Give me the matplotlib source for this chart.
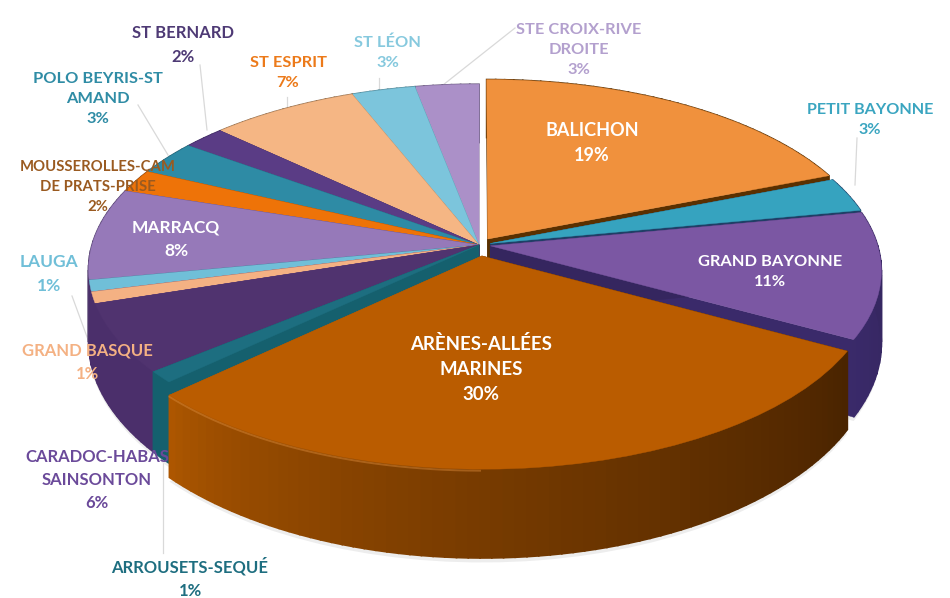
import numpy as np
import matplotlib
matplotlib.use('Agg')
import matplotlib.pyplot as plt
from matplotlib.colors import to_rgb
from matplotlib.transforms import Transform

plt.rcParams['font.family'] = ['Lato', 'DejaVu Sans']

names = ['BALICHON', 'PETIT BAYONNE', 'GRAND BAYONNE', 'ARÈNES-ALLÉES\nMARINES', 'ARROUSETS-SEQUÉ',
         'CARADOC-HABAS\nSAINSONTON', 'GRAND BASQUE', 'LAUGA', 'MARRACQ',
         'MOUSSEROLLES-CAM\nDE PRATS-PRISE', 'POLO BEYRIS-ST\nAMAND', 'ST BERNARD', 'ST ESPRIT',
         'ST LÉON', 'STE CROIX-RIVE\nDROITE']
values = [19, 3, 11, 30, 1, 6, 1, 1, 8, 2, 3, 2, 7, 3, 3]

top_colors = ['#F0913D', '#36A3BF', '#7B57A3', '#BA5C00', '#1D6E80', '#50336F', '#F4B183', '#70BFD8',
              '#9679B9', '#EE7308', '#2E8BA5', '#5A3C85', '#F5B684', '#7CC5DC', '#AB90C8']
# side colours at the right and left end of each slice's wall
side_right = ['#5A3000', '#1F3F66', '#35265F', '#4A2400', '#15606E', '#4B2F6B', '#4B2F6B', '#4B2F6B',
              '#54406F', '#84400A', '#1F5C6E', '#37255A', '#8F6A48', '#4A8090', '#6A5A80']
side_left = ['#5A3000', '#1F3F66', '#3A2A6A', '#B05800', '#15606E', '#4B2F6B', '#4B2F6B', '#4B2F6B',
             '#54406F', '#84400A', '#1F5C6E', '#37255A', '#8F6A48', '#4A8090', '#6A5A80']
explode = [0.04, 0.03, 0.03, 0.06, 0, 0, 0, 0, 0, 0, 0, 0, 0, 0, 0]

text_colors = ['white', '#3AA5C0', 'white', 'white', '#1E6E80', '#6B4A9A', '#F4B183', '#70BFD8', 'white',
               '#9A5A20', '#2F8CA5', '#4E3A75', '#EC7A1A', '#86C9DE', '#B3A0CE']
label_x = [592, 870, 770, 481, 190, 97, 87, 49, 176, 98, 98, 183, 288, 388, 579]
label_y = [143, 120, 272, 369, 578, 480, 362, 274, 239, 187, 99, 45, 73, 53, 50]
label_size = [13, 11.6, 11.8, 13.4, 12, 12, 12, 12.5, 12.5, 10.7, 11.8, 12, 11.8, 11.8, 11.8]

leaders_x = [[515, 443], [857, 855], [379, 379], [287, 287], [200, 207], [138, 168], [72, 90], [163, 163]]
leaders_y = [[28, 85], [138, 185], [78, 90], [97, 107], [65, 130], [105, 155], [296, 345], [448, 553]]


class PieProjection(Transform):
    # tilts the flat unit pie into picture pixels
    input_dims = 2
    output_dims = 2

    def __init__(self, lift=0.0):
        super().__init__()
        self.lift = lift

    def transform_non_affine(self, values):
        pts = np.asarray(values, dtype=float)
        x, y = pts[:, 0], pts[:, 1]
        w = 1 + 0.132 * y
        px = 479 + 387 * x / w
        py = 245 - 182 * y / w + self.lift * 70 / (1 + 0.2 * y)
        return np.column_stack([px, py])


fig = plt.figure(figsize=(9.5, 5.98), dpi=100)
ax = fig.add_axes([0, 0, 1, 1])

top = PieProjection(0.0)
bottom = PieProjection(1.0)

shadow, _ = ax.pie(values, explode=explode, colors=['#ededed'] * len(values), startangle=90, counterclock=False,
                   wedgeprops={'linewidth': 0})
for w in shadow:
    w.set_transform(PieProjection(1.05) + ax.transData)
    w.set_zorder(2)

wedges, _ = ax.pie(values, explode=explode, colors=top_colors, startangle=90, counterclock=False,
                   wedgeprops={'linewidth': 0.3})
ax.set_aspect('auto')
ax.set_xlim(0, 950)
ax.set_ylim(598, 0)
ax.axis('off')

for xs, ys in zip(leaders_x, leaders_y):
    ax.plot(xs, ys, color='#d9d9d9', lw=0.9, zorder=1)


def mid_height(w):
    a = np.radians((w.theta1 + w.theta2) / 2)
    return w.center[1] + np.sin(a) / 2


order = sorted(range(len(wedges)), key=lambda i: -mid_height(wedges[i]))
for rank, i in enumerate(order):
    w = wedges[i]
    z = 10 + rank
    w.set_edgecolor(top_colors[i])
    w.set_transform(top + ax.transData)
    w.set_zorder(z + 0.5)
    cx, cy = w.center
    c_r = np.array(to_rgb(side_right[i]))
    c_l = np.array(to_rgb(side_left[i]))

    # straight walls at the two cut edges
    for ang, col in ((w.theta1, c_l), (w.theta2, c_r)):
        a = np.radians(ang)
        flat = np.array([[cx, cy], [cx + np.cos(a), cy + np.sin(a)]])
        poly = np.vstack([top.transform(flat), bottom.transform(flat)[::-1]])
        ax.fill(poly[:, 0], poly[:, 1], color=col, lw=0.3, zorder=z)

    # curved outer wall, in strips so the shade can run along it
    n = max(2, int((w.theta2 - w.theta1) / 1.5))
    angs = np.radians(np.linspace(w.theta1, w.theta2, n + 1))
    flat = np.column_stack([cx + np.cos(angs), cy + np.sin(angs)])
    upper = top.transform(flat)
    lower = bottom.transform(flat)
    for k in range(n):
        t = ((k + 0.5) / n) ** 0.7
        col = c_l + (c_r - c_l) * t
        poly = np.vstack([upper[k:k + 2], lower[k:k + 2][::-1]])
        ax.fill(poly[:, 0], poly[:, 1], color=col, lw=1.2, zorder=z + 0.1)

    # soft light rim along the left part of the big front slice
    if values[i] == max(values):
        m = int(n * 0.45)
        ax.plot(upper[:m, 0], upper[:m, 1] + 1.5, color='#DB8A3A', lw=1.4, alpha=0.45, zorder=z + 0.2)

for i in range(len(names)):
    ax.text(label_x[i], label_y[i], f'{names[i]}\n{values[i]}%', color=text_colors[i], fontsize=label_size[i],
            fontweight='bold', ha='center', va='center', linespacing=1.55, zorder=40)

fig.savefig('out.png', dpi=100, facecolor='white')
